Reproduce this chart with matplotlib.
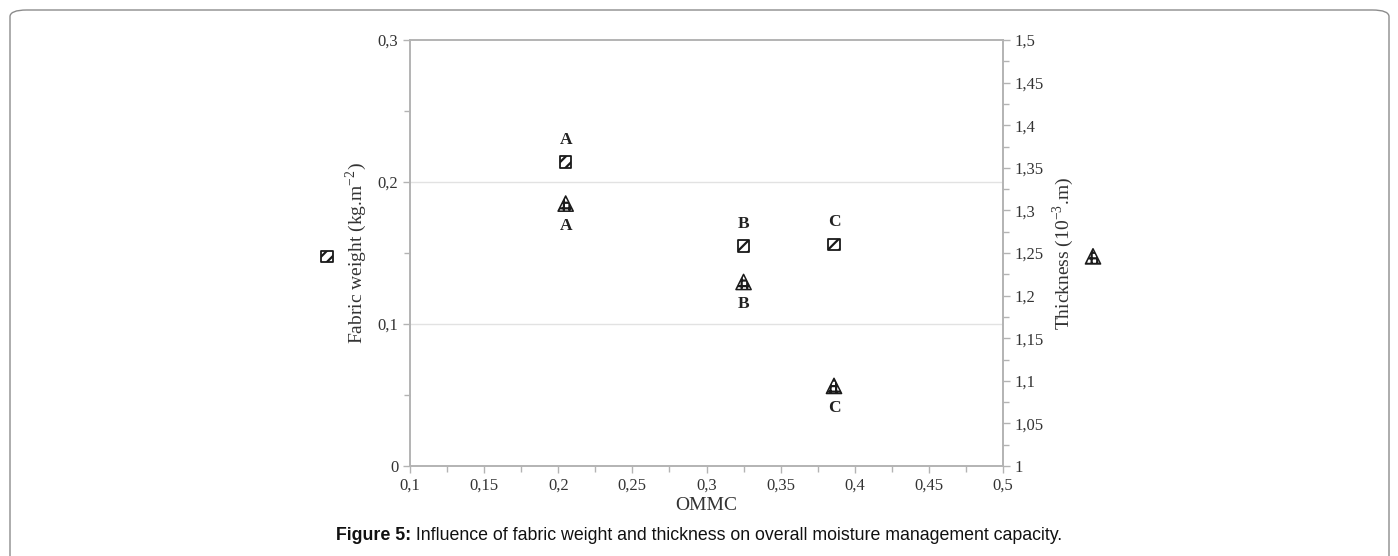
import matplotlib
matplotlib.use("Agg")
import matplotlib.pyplot as plt
from matplotlib.ticker import FuncFormatter, MultipleLocator
from matplotlib.patches import FancyBboxPatch

# values
fabrics = ["A", "B", "C"]
ommc = [0.205, 0.325, 0.386]
fabric_weight = [0.214, 0.155, 0.156]
thickness = [1.308, 1.216, 1.094]

plt.rcParams["hatch.linewidth"] = 1.6
plt.rcParams["mathtext.fontset"] = "stix"
serif = ["Liberation Serif", "DejaVu Serif"]
sans = ["Liberation Sans", "DejaVu Sans"]
txt_col = "#333333"
spine_col = "#b3b3b3"


def comma_fmt(v, pos):
    s = f"{round(v, 4):g}"
    return s.replace(".", ",")


fig = plt.figure(figsize=(13.98, 5.56), dpi=100)

# rounded frame around the figure
frame = FancyBboxPatch((10 / 1398, -0.2), 1379 / 1398, 1.2 - 10 / 556,
                       boxstyle="round,pad=0,rounding_size=0.012",
                       transform=fig.transFigure, fill=False,
                       edgecolor="#8c8c8c", linewidth=1.0)
fig.patches.append(frame)

ax = fig.add_axes([410 / 1398, 90 / 556, 593 / 1398, 426 / 556])
ax2 = ax.twinx()

ax.set_xlim(0.1, 0.5)
ax.set_ylim(0, 0.3)
ax2.set_ylim(1, 1.5)

ax.xaxis.set_major_locator(MultipleLocator(0.05))
ax.xaxis.set_minor_locator(MultipleLocator(0.025))
ax.yaxis.set_major_locator(MultipleLocator(0.1))
ax.yaxis.set_minor_locator(MultipleLocator(0.05))
ax2.yaxis.set_major_locator(MultipleLocator(0.05))
ax2.yaxis.set_minor_locator(MultipleLocator(0.025))

for a in (ax, ax2):
    a.xaxis.set_major_formatter(FuncFormatter(comma_fmt))
    a.yaxis.set_major_formatter(FuncFormatter(comma_fmt))
    for sp in a.spines.values():
        sp.set_color(spine_col)
        sp.set_linewidth(1.2)
    a.tick_params(which="both", direction="out", color=spine_col, width=1.0,
                  labelsize=12, labelcolor=txt_col)
    a.tick_params(which="major", length=5)
    a.tick_params(which="minor", length=4)
    for lab in a.get_xticklabels() + a.get_yticklabels():
        lab.set_family(serif)

for t in [0.1, 0.2]:
    ax.axhline(t, color="#e2e2e2", linewidth=1.0, zorder=0)

sq = ax.scatter(ommc, fabric_weight, marker="s", s=70, facecolor="white",
                edgecolor="#1a1a1a", hatch="///", linewidth=1.3, zorder=3)
tri = ax2.scatter(ommc, thickness, marker="^", s=120, facecolor="white",
                  edgecolor="#1a1a1a", hatch="+++", linewidth=1.1, zorder=3)

for name, x, y in zip(fabrics, ommc, fabric_weight):
    ax.annotate(name, (x, y), xytext=(0, 16), textcoords="offset points",
                ha="center", va="center", fontsize=12.5, fontweight="bold",
                family=serif, color="#222222")
for name, x, y in zip(fabrics, ommc, thickness):
    ax2.annotate(name, (x, y), xytext=(0, -16), textcoords="offset points",
                 ha="center", va="center", fontsize=12.5, fontweight="bold",
                 family=serif, color="#222222")

ax.set_xlabel("OMMC", family=serif, fontsize=14, color=txt_col, labelpad=2)
ax.set_ylabel("Fabric weight (kg.m$^{\\mathregular{-2}}$)", family=serif,
              fontsize=14, color=txt_col, labelpad=6)
ax2.set_ylabel("Thickness (10$^{\\mathregular{-3}}$.m)", family=serif,
               fontsize=14, color=txt_col, labelpad=5)

# series symbols beside the axis titles
fig.legend([sq], [""], loc="center", bbox_to_anchor=(327 / 1398, 1 - 256 / 556),
           frameon=False, handlelength=0.8, handletextpad=0, borderpad=0,
           scatterpoints=1)
fig.legend([tri], [""], loc="center", bbox_to_anchor=(1093 / 1398, 1 - 256 / 556),
           frameon=False, handlelength=0.8, handletextpad=0, borderpad=0,
           scatterpoints=1)

# caption, centred as a whole
cap_y = 1 - 536 / 556
t1 = fig.text(0, cap_y, "Figure 5:", ha="left", va="center",
              family=sans, fontweight="bold", fontsize=12.8, color="#111111")
t2 = fig.text(0, cap_y,
              " Influence of fabric weight and thickness on overall moisture management capacity.",
              ha="left", va="center", family=sans, fontsize=12.8, color="#111111")
r = fig.canvas.get_renderer()
w1 = t1.get_window_extent(r).width
w2 = t2.get_window_extent(r).width
x0 = 699 - (w1 + w2) / 2
t1.set_x(x0 / 1398)
t2.set_x((x0 + w1) / 1398)

fig.savefig("out.png", dpi=100)
